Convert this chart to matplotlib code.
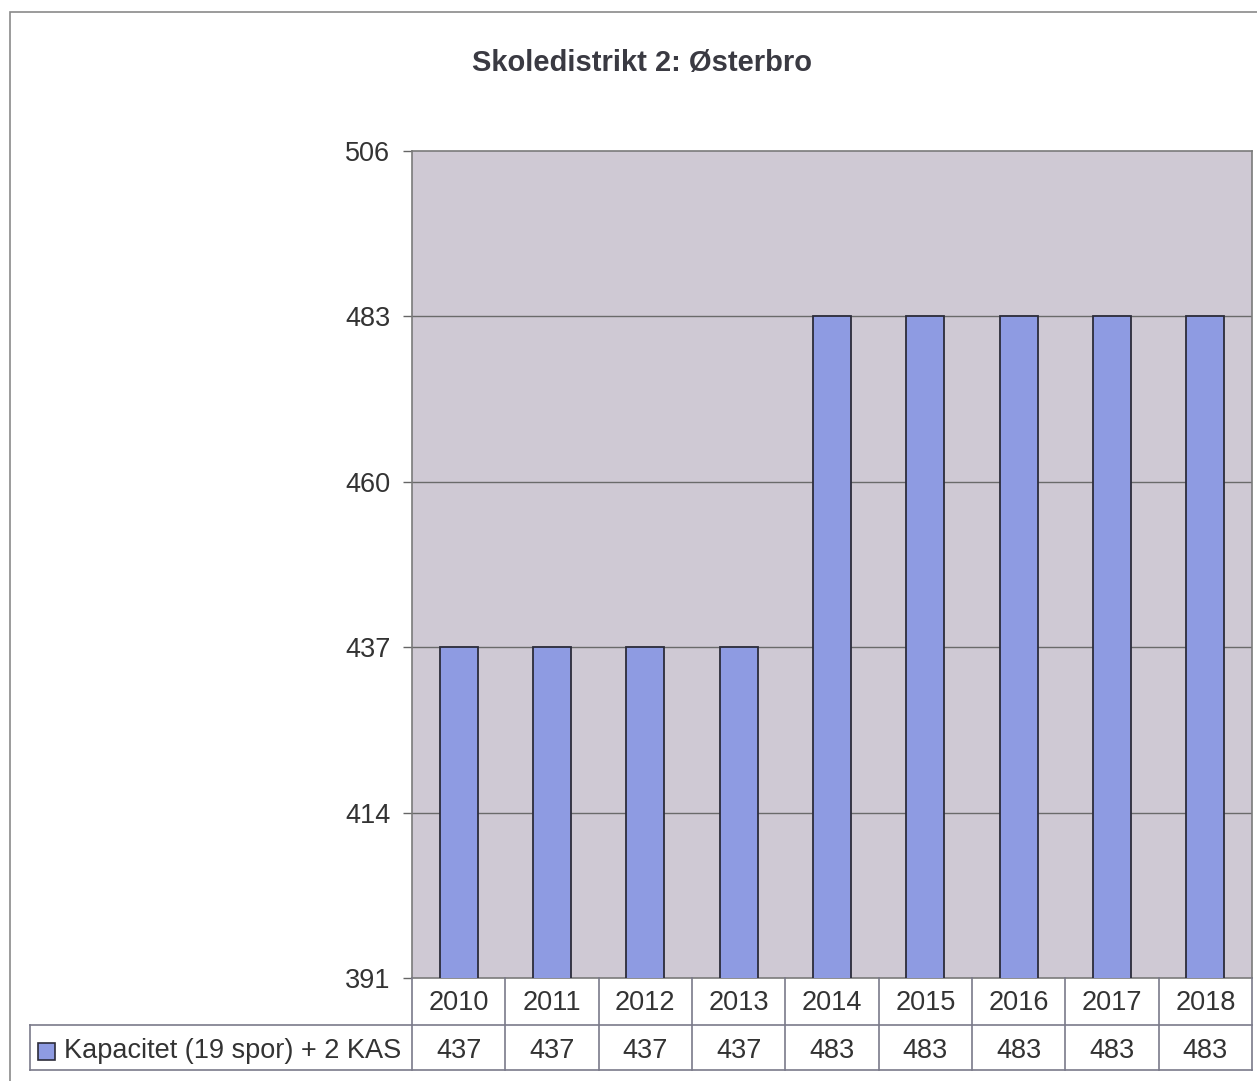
import matplotlib
matplotlib.use("Agg")
import matplotlib.pyplot as plt
from matplotlib.patches import Rectangle
from matplotlib.lines import Line2D

years = ["2010", "2011", "2012", "2013", "2014", "2015", "2016", "2017", "2018"]
kapacitet = [437, 437, 437, 437, 483, 483, 483, 483, 483]
series_label = "Kapacitet (19 spor) + 2 KAS"
yticks = [391, 414, 437, 460, 483, 506]
title = "Skoledistrikt 2: Østerbro"

W, H = 1257, 1081
plt.rcParams['font.family'] = ['Liberation Sans', 'DejaVu Sans']
fig = plt.figure(figsize=(W / 100, H / 100), dpi=100)
fig.patch.set_facecolor("white")

def fx(px):
    return px / W

def fy(py):
    return 1 - py / H

# outer frame
fig.add_artist(Rectangle((fx(10), fy(1095)), fx(1275) - fx(10), fy(12) - fy(1095),
                         transform=fig.transFigure, fill=False, edgecolor="#8a8a8a", lw=1.2))

left, right, top, bottom = 412, 1252, 151, 978
ax = fig.add_axes([fx(left), fy(bottom), fx(right) - fx(left), fy(top) - fy(bottom)])
ax.set_facecolor("#CFC9D4")

x = list(range(len(years)))
ax.bar(x, kapacitet, width=0.41, color="#8E9BE2", edgecolor="#2c2c3a", linewidth=1.3, zorder=3)
ax.set_xlim(-0.5, len(years) - 0.5)
ax.set_ylim(yticks[0], yticks[-1])
ax.set_yticks(yticks)
ax.set_yticklabels([str(t) for t in yticks], fontsize=19.5, color="#333333")
ax.tick_params(axis='y', length=6.5, width=1, color="#666666", pad=9)
ax.set_xticks([])
for t in yticks[1:-1]:
    ax.axhline(t, color="#6a6a6a", lw=1.0, zorder=1)
for s in ax.spines.values():
    s.set_color("#7a7a7a")
    s.set_linewidth(1.2)

fig.text(0.5 * (fx(470) + fx(814)), fy(63), title, ha="center", va="center",
         fontsize=21, fontweight="bold", color="#3a3a42")

# data table
r1, r2, r3 = 978, 1025, 1070
lc = "#7a7a8a"
cw = (right - left) / len(years)

def hline(y, x0, x1):
    fig.add_artist(Line2D([fx(x0), fx(x1)], [fy(y), fy(y)], transform=fig.transFigure, color=lc, lw=1.2))

def vline(xp, y0, y1):
    fig.add_artist(Line2D([fx(xp), fx(xp)], [fy(y0), fy(y1)], transform=fig.transFigure, color=lc, lw=1.2))

hline(r2, 30, right)
hline(r3, 30, right)
vline(30, r2, r3)
for i in range(len(years) + 1):
    vline(left + i * cw, r1, r3)

for i, (yr, v) in enumerate(zip(years, kapacitet)):
    cx = left + (i + 0.5) * cw
    fig.text(fx(cx), fy(1002.5), yr, ha="center", va="center", fontsize=19.5, color="#333333")
    fig.text(fx(cx), fy(1051), str(v), ha="center", va="center", fontsize=19.5, color="#333333")

# legend key
fig.add_artist(Rectangle((fx(38), fy(1060)), fx(55) - fx(38), fy(1043) - fy(1060),
                         transform=fig.transFigure, facecolor="#8E9BE2", edgecolor="#2c2c3a", lw=1.2))
fig.text(fx(64), fy(1051), series_label, ha="left", va="center", fontsize=19.5, color="#333333")

fig.savefig("out.png", dpi=100, facecolor="white")
